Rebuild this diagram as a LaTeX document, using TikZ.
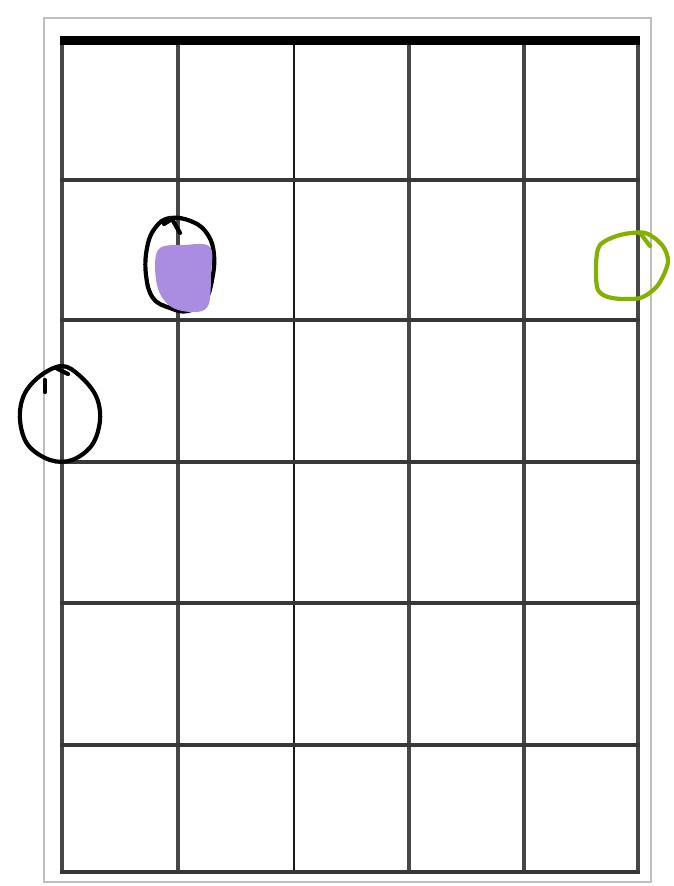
\documentclass[tikz,border=0pt]{standalone}
\definecolor{pengreen}{RGB}{134,176,0}
\definecolor{penpurple}{RGB}{170,140,224}
\tikzset{
  stringline/.style={draw=black!72,line width=4pt},
  fretline/.style={draw=black!78,line width=3.4pt},
  pen/.style={line width=4.2pt,line cap=round,line join=round},
}
\begin{document}
\begin{tikzpicture}[x=1pt,y=-1pt]
\useasboundingbox (0,0) rectangle (673,886);
\fill[white] (0,0) rectangle (673,886);
% outer frame
\draw[black!25,line width=1.2pt] (44,18) rectangle (651,882);
% strings
\foreach \x in {62,178,409,524,638} \draw[stringline] (\x,40) -- (\x,873);
\draw[draw=black!90,line width=2.8pt] (294,40) -- (294,873);
% frets
\foreach \y in {180,320,462,603,745,872} \draw[fretline] (60,\y) -- (640,\y);
% nut
\draw[black,line width=9pt] (60,40) -- (640,40);
% black loop around purple
\draw[pen,black] plot[smooth cycle,tension=0.7] coordinates {(170,218) (193,222) (208,235) (214,255) (212,280) (205,300) (188,311) (170,308) (153,298) (146,275) (147,248) (155,228)};
\draw[pen,black] (164,224) -- (172,219) -- (180,233);
% purple blob
\fill[penpurple] plot[smooth cycle,tension=0.6] coordinates {(158,250) (185,245) (210,247) (211,275) (208,306) (192,312) (170,306) (157,285)};
% green loop
\draw[pen,pengreen] plot[smooth cycle,tension=0.5] coordinates {(600,245) (620,235) (645,233) (662,245) (668,262) (658,285) (640,298) (612,298) (598,290) (596,265)};
\draw[pen,pengreen] (640,233) -- (650,246);
% black open circle left
\draw[pen,black] plot[smooth cycle,tension=0.6] coordinates {(62,366) (80,376) (96,396) (100,420) (92,445) (72,460) (50,460) (28,445) (20,420) (24,395) (40,376)};
\draw[pen,black] (45,380) -- (45,392);
\draw[pen,black] (56,368) -- (68,374);
\end{tikzpicture}
\end{document}
